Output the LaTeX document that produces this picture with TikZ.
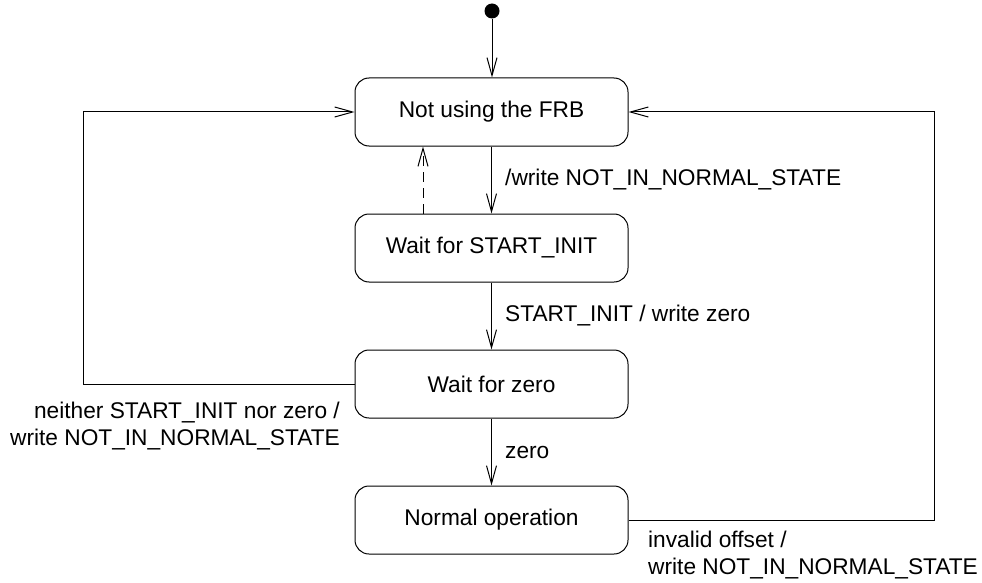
\documentclass[tikz,border=0pt]{standalone}
\usepackage{fontspec}
\setmainfont{Liberation Sans}
\usetikzlibrary{arrows.meta}
\begin{document}
\begin{tikzpicture}[x=1pt,y=-1pt,
  state/.style={draw, rounded corners=14pt, minimum width=273pt, minimum height=68pt, line width=1pt, font=\fontsize{22.7}{27.5}\selectfont},
  lbl/.style={font=\fontsize{22.7}{27.5}\selectfont, inner sep=0pt},
  trans/.style={line width=1pt, -{Straight Barb[length=18pt,width=10pt]}},
  initdot/.style={fill=black, circle, inner sep=0pt, minimum size=15pt}
]
\useasboundingbox (0,0) rectangle (982,583);
\node[initdot] (init) at (492,11) {};
\node[state] (s1) at (491.5,112) {Not using the FRB};
\node[state] (s2) at (491.5,248) {Wait for START\_INIT};
\node[state] (s3) at (491.5,384) {Wait for zero};
\node[state] (s4) at (491.5,520) {Normal operation};
\coordinate (lc) at (83,112);
\coordinate (rc) at (934,112);
\draw[trans] (init) -- (s1.north -| init);
\draw[trans] (s1) -- (s2);
\draw[trans] (s2) -- (s3);
\draw[trans] (s3) -- (s4);
\draw[trans, dash pattern=on 10pt off 6pt] (s2.north -| 423,0) -- (s1.south -| 423,0);
\draw[trans] (s3.west) -| (lc) -- (s1.west);
\draw[trans] (s4.east) -| (rc) -- (s1.east);
\node[lbl, anchor=west] (l1) at (505,180) {/write NOT\_IN\_NORMAL\_STATE};
\node[lbl, anchor=west] (l2) at (505,316) {START\_INIT / write zero};
\node[lbl, anchor=west] (l3) at (505,452) {zero};
\node[lbl, anchor=east, align=right] (l4) at (340,426) {neither START\_INIT nor zero /\\write NOT\_IN\_NORMAL\_STATE};
\node[lbl, anchor=west, align=left] (l5) at (648,555) {invalid offset /\\write NOT\_IN\_NORMAL\_STATE};
\end{tikzpicture}
\end{document}
